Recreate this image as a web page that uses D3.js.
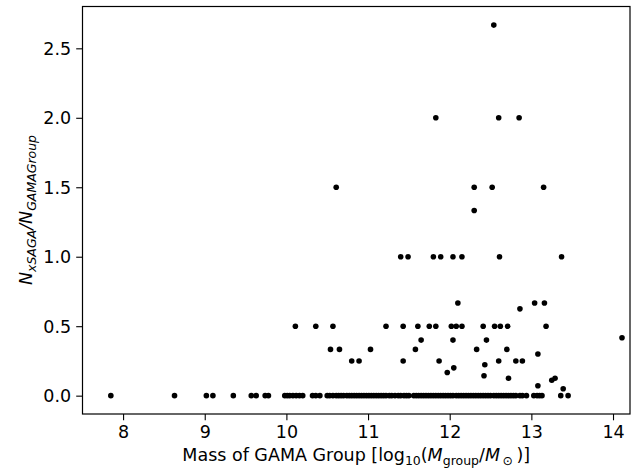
<!DOCTYPE html>
<html><head><meta charset="utf-8">
<script src="https://cdn.jsdelivr.net/npm/d3@7"></script>
<style>
body{margin:0;background:#fff;}
svg{display:block;font-family:"DejaVu Sans",sans-serif;}
</style></head>
<body><svg id="c" width="638" height="469"></svg>
<script>
// Groups with zero xSAGA matches (log10 group mass)
const zeroMass = [7.85, 8.63, 9.02, 9.10, 9.35, 9.57, 9.63, 9.74, 9.78,
  9.98, 10.01, 10.04, 10.08, 10.12, 10.16, 10.20, 10.32, 10.36, 10.41,
  10.50, 10.53, 10.57, 10.61, 10.64, 10.67, 10.70, 10.74, 10.77, 10.80, 10.83, 10.86, 10.89,
  10.92, 10.95, 10.98, 11.01, 11.04, 11.07, 11.10, 11.13, 11.16, 11.19, 11.22, 11.26, 11.29,
  11.33, 11.37, 11.40, 11.44, 11.47, 11.50, 11.56, 11.59, 11.62, 11.65, 11.68, 11.71, 11.74,
  11.77, 11.80, 11.83, 11.86, 11.89, 11.92, 11.95, 11.98, 12.01, 12.04, 12.08, 12.11, 12.14,
  12.17, 12.20, 12.23, 12.26, 12.29, 12.32, 12.35, 12.38, 12.41, 12.44, 12.47, 12.50, 12.54,
  12.57, 12.60, 12.63, 12.66, 12.69, 12.72, 12.75, 12.78, 12.81, 12.86, 12.89, 12.94,
  13.03, 13.07, 13.10, 13.13, 13.36, 13.45];
// Groups with nonzero ratio
const massNZ  = [12.54, 11.83, 12.60, 12.85, 10.61, 12.30, 12.52, 13.15, 12.30,
  11.40, 11.49, 11.80, 11.89, 12.04, 12.15, 12.61, 13.37,
  12.10, 13.04, 13.16, 12.86,
  10.11, 10.36, 10.57, 11.22, 11.43, 11.61, 11.75, 11.83, 12.02, 12.08, 12.15, 12.41, 12.55, 12.62, 12.71, 13.18,
  14.11, 11.65, 12.04, 12.45,
  10.54, 10.65, 11.03, 11.58, 12.33, 12.70, 13.08,
  10.80, 10.89, 11.43, 11.87, 12.60, 12.81, 12.89,
  12.43, 12.05, 11.97, 12.42, 12.72, 13.29, 13.25, 13.08, 13.39];
const ratioNZ = [2.667, 2, 2, 2, 1.5, 1.5, 1.5, 1.5, 1.333,
  1, 1, 1, 1, 1, 1, 1, 1,
  0.667, 0.667, 0.667, 0.625,
  0.5, 0.5, 0.5, 0.5, 0.5, 0.5, 0.5, 0.5, 0.5, 0.5, 0.5, 0.5, 0.5, 0.5, 0.5, 0.5,
  0.417, 0.4, 0.4, 0.4,
  0.333, 0.333, 0.333, 0.333, 0.333, 0.333, 0.3,
  0.25, 0.25, 0.25, 0.25, 0.25, 0.25, 0.25,
  0.222, 0.2, 0.167, 0.143, 0.125, 0.125, 0.111, 0.071, 0.05];
const xTicks = [8, 9, 10, 11, 12, 13, 14];
const yTicks = [0, 0.5, 1.0, 1.5, 2.0, 2.5];

const points = zeroMass.map(m => ({m, r: 0}))
  .concat(massNZ.map((m, i) => ({m, r: ratioNZ[i]})));

const L = 82.5, R = 630, T = 6.5, B = 414;
const x = d3.scaleLinear().domain([7.503, 14.208]).range([L, R]);
const y = d3.scaleLinear().domain([-0.132, 2.801]).range([B, T]);
const svg = d3.select("#c");
const fs = 17.5;

svg.append("g").selectAll("circle").data(points).join("circle")
  .attr("cx", d => x(d.m)).attr("cy", d => y(d.r)).attr("r", 2.8).attr("fill", "#000");

const xa = svg.append("g").attr("transform", `translate(0,${B})`)
  .call(d3.axisBottom(x).tickValues(xTicks).tickFormat(d3.format("d")).tickSizeOuter(0).tickSize(6.3).tickPadding(5));
const ya = svg.append("g").attr("transform", `translate(${L},0)`)
  .call(d3.axisLeft(y).tickValues(yTicks).tickFormat(d3.format(".1f")).tickSizeOuter(0).tickSize(6.3).tickPadding(5));
[xa, ya].forEach(a => {
  a.select(".domain").remove();
  a.selectAll("line").attr("stroke", "#000").attr("stroke-width", 1.1);
  a.selectAll("text").attr("font-size", fs).attr("fill", "#000").attr("font-family", "DejaVu Sans");
});
ya.selectAll("text").attr("dy", "0.34em");

svg.append("rect").attr("x", L).attr("y", T).attr("width", R - L).attr("height", B - T)
  .attr("fill", "none").attr("stroke", "#000").attr("stroke-width", 1.2);

// x label
const xl = svg.append("text").attr("x", (L + R) / 2).attr("y", 461).attr("text-anchor", "middle")
  .attr("font-size", fs).attr("fill", "#000");
xl.append("tspan").text("Mass of GAMA Group [log");
xl.append("tspan").attr("font-size", 12.5).attr("dy", 3.5).text("10");
xl.append("tspan").attr("dy", -3.5).text("(");
xl.append("tspan").attr("font-style", "italic").text("M");
xl.append("tspan").attr("font-size", 12.5).attr("dy", 3.5).text("group");
xl.append("tspan").attr("dy", -3.5).text("/");
xl.append("tspan").attr("font-style", "italic").text("M");
xl.append("tspan").attr("font-size", 12.5).attr("dy", 3.5).text("\u2009\u2299");
xl.append("tspan").attr("dy", -3.5).text("\u2009)]");

// y label
const yl = svg.append("text").attr("transform", "translate(32,210) rotate(-90)").attr("text-anchor", "middle")
  .attr("font-size", fs).attr("fill", "#000").attr("font-style", "italic");
yl.append("tspan").text("N");
yl.append("tspan").attr("font-size", 12.5).attr("dy", 3.5).text("xSAGA");
yl.append("tspan").attr("dy", -3.5).text("/N");
yl.append("tspan").attr("font-size", 12.5).attr("dy", 3.5).text("GAMAGroup");
</script></body></html>
